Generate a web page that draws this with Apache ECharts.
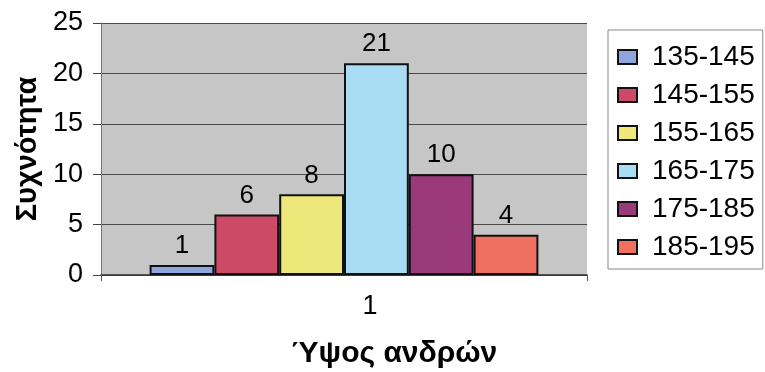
<!DOCTYPE html>
<html>
<head>
<meta charset="utf-8">
<script src="https://cdn.jsdelivr.net/npm/echarts@6/dist/echarts.min.js"></script>
<style>
  html, body { margin: 0; padding: 0; background: #ffffff; }
  #chart { width: 765px; height: 372px; }
</style>
</head>
<body>
<div id="chart"></div>
<script>
// Height classes (cm) and number of men in each class
const categories = ['1'];
const heightClasses = ['135-145', '145-155', '155-165', '165-175', '175-185', '185-195'];
const frequencies = [1, 6, 8, 21, 10, 4];
const classColors = ['#8ea6dc', '#cc4a66', '#eee87a', '#aadcf4', '#9a3a7a', '#f07060'];
const yTicks = { min: 0, max: 25, interval: 5 };

const FONT = '"Liberation Sans", Arial, sans-serif';

const chart = echarts.init(document.getElementById('chart'), null, { renderer: 'canvas' });

const series = heightClasses.map((name, i) => ({
  name: name,
  type: 'bar',
  data: [frequencies[i]],
  barGap: '0%',
  barCategoryGap: '20%',
  itemStyle: { color: classColors[i], borderColor: '#111', borderWidth: 2 },
  label: {
    show: true,
    position: 'top',
    distance: 6,
    color: '#000',
    fontFamily: FONT,
    fontSize: 26
  }
}));

chart.setOption({
  animation: false,
  textStyle: { fontFamily: FONT },
  grid: {
    left: 101, right: 178, top: 23, bottom: 97,
    outerBoundsMode: 'none',
    show: true,
    backgroundColor: '#c6c6c6',
    borderWidth: 0
  },
  legend: {
    data: heightClasses,
    orient: 'vertical',
    left: 608,
    top: 30,
    padding: [13, 8, 8, 9],
    itemGap: 10,
    itemWidth: 19,
    itemHeight: 14,
    backgroundColor: '#ffffff',
    borderColor: '#8a8a8a',
    borderWidth: 1,
    borderRadius: 0,
    icon: 'rect',
    itemStyle: { borderColor: '#111', borderWidth: 2 },
    textStyle: { fontFamily: FONT, fontSize: 28, color: '#000', padding: [0, 0, 0, 10] }
  },
  xAxis: {
    type: 'category',
    data: categories,
    name: 'Ύψος ανδρών',
    nameLocation: 'middle',
    nameGap: 64,
    // the axis title sits right of the plot centre
    nameTextStyle: { fontFamily: FONT, fontSize: 30, fontWeight: 'bold', color: '#000', padding: [0, 0, 0, 100] },
    axisLine: { show: true, lineStyle: { color: '#333', width: 1.5 } },
    axisTick: { show: true, length: 6, lineStyle: { color: '#555' } },
    axisLabel: { margin: 18, fontSize: 27, color: '#000', fontFamily: FONT, padding: [0, 0, 0, 52] }
  },
  yAxis: {
    type: 'value',
    min: yTicks.min,
    max: yTicks.max,
    interval: yTicks.interval,
    name: 'Συχνότητα',
    nameLocation: 'middle',
    nameGap: 57,
    nameTextStyle: { fontFamily: FONT, fontSize: 29, fontWeight: 'bold', color: '#000' },
    axisLine: { show: true, lineStyle: { color: '#777', width: 1 } },
    axisTick: { show: true, length: 8, lineStyle: { color: '#444' } },
    axisLabel: { margin: 18, fontSize: 27, color: '#000', fontFamily: FONT },
    splitLine: { show: true, lineStyle: { color: '#4a4a4a', width: 1.2 } }
  },
  series: series
});
</script>
</body>
</html>
